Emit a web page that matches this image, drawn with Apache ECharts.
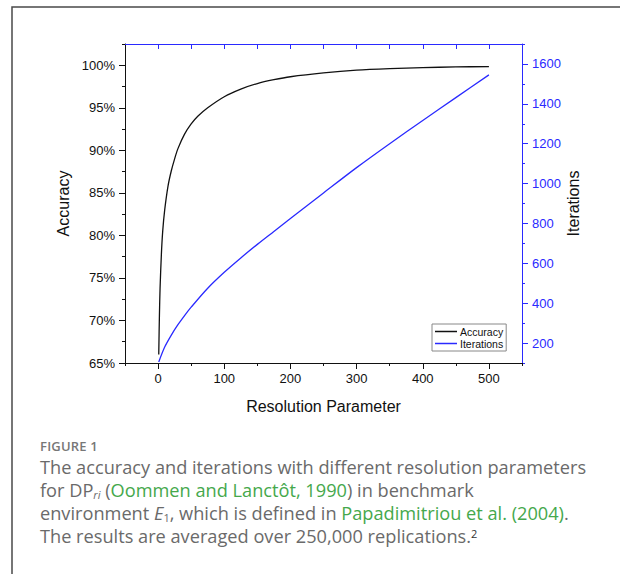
<!DOCTYPE html>
<html>
<head>
<meta charset="utf-8">
<script src="https://cdn.jsdelivr.net/npm/echarts@6.0.0/dist/echarts.min.js"></script>
<style>
  html, body { margin: 0; padding: 0; background: #fff; }
  #wrap { position: relative; width: 620px; height: 574px; }
  #chart { position: absolute; left: 0; top: 0; width: 620px; height: 574px; }
  #caption { position: absolute; left: 40px; top: 437px; width: 580px; font-family: "Open Sans", sans-serif; color: #6a6a6a; }
  #caption .fig { font-size: 13px; font-weight: 600; line-height: 19px; letter-spacing: 0.2px; color: #777; }
  #caption .cap { font-size: 18.2px; line-height: 23px; white-space: nowrap; }
  #caption .g { color: #45a84c; }
  #caption .sub { font-size: 11px; line-height: 0; vertical-align: -2px; }
  #caption .sup { font-size: 11px; line-height: 0; vertical-align: 5px; color: #333; }
</style>
</head>
<body>
<div id="wrap">
  <div id="chart"></div>
  <div id="caption">
    <div class="fig">FIGURE 1</div>
    <div class="cap">The accuracy and iterations with different resolution parameters<br>for DP<span class="sub"><i>ri</i></span> (<span class="g">Oommen and Lanctôt, 1990</span>) in benchmark<br>environment <i>E</i><span class="sub">1</span>, which is defined in <span class="g">Papadimitriou et al. (2004)</span>.<br>The results are averaged over 250,000 replications.<span class="sup">2</span></div>
  </div>
</div>
<script>
// values
var resolution = [1, 2, 3, 5, 7, 10, 15, 20, 25, 30, 40, 50, 60, 75, 100, 125, 150, 175, 200, 250, 300, 350, 400, 450, 500];
var accuracy = [66.0, 70.5, 73.8, 77.8, 80.5, 83.0, 85.8, 87.6, 89.0, 90.2, 91.9, 93.1, 94.0, 95.0, 96.3, 97.2, 97.85, 98.3, 98.65, 99.1, 99.42, 99.6, 99.72, 99.8, 99.85];

var iterResolution = [1, 10, 20, 30, 40, 50, 75, 100, 125, 150, 175, 200, 250, 300, 350, 400, 450, 500];
var iterations = [105, 180, 240, 292, 338, 380, 475, 555, 627, 695, 760, 825, 953, 1080, 1200, 1316, 1431, 1545];

// tick values
var xLabels = [0, 100, 200, 300, 400, 500];
var xMinor = [-50, 50, 150, 250, 350, 450, 550];
var xTop = [0, 50, 100, 150, 200, 250, 300, 350, 400, 450, 500];
var accLabels = [65, 70, 75, 80, 85, 90, 95, 100];
var accMinor = [67.5, 72.5, 77.5, 82.5, 87.5, 92.5, 97.5, 102.5];
var iterLabels = [200, 400, 600, 800, 1000, 1200, 1400, 1600];
var iterMinor = [100, 300, 500, 700, 900, 1100, 1300, 1500, 1700];

var font = 'Liberation Sans';
var black = '#111';
var blue = '#2a2aff';

function pairs(xs, ys) {
    return xs.map(function (x, i) { return [x, ys[i]]; });
}

var chartDom = document.getElementById('chart');
var myChart = echarts.init(chartDom, null, { renderer: 'svg' });

var option = {
    animation: false,
    grid: { left: 125, right: 98, top: 44, bottom: 211, outerBoundsMode: 'none' },
    legend: {
        orient: 'vertical',
        left: 432,
        top: 324,
        padding: [2, 3, 2, 3],
        itemGap: 1,
        itemWidth: 22,
        itemHeight: 1.5,
        icon: 'rect',
        borderColor: '#888',
        borderWidth: 1,
        borderRadius: 0,
        textStyle: { fontFamily: font, fontSize: 10.5, color: '#111', padding: [0, 0, 0, -2] },
        data: ['Accuracy', 'Iterations']
    },
    xAxis: [
        {
            type: 'value', position: 'bottom', min: -50, max: 550,
            name: 'Resolution Parameter', nameLocation: 'middle', nameGap: 35, nameMoveOverlap: false,
            nameTextStyle: { fontFamily: font, fontSize: 16, color: '#111' },
            axisLine: { onZero: false, lineStyle: { color: black, width: 1 } },
            axisTick: { customValues: xLabels, length: 6, lineStyle: { color: black } },
            axisLabel: { customValues: xLabels, fontFamily: font, fontSize: 13, color: '#111', margin: 9,
                formatter: function (v) { return String(v); } },
            splitLine: { show: false }
        },
        {
            type: 'value', position: 'bottom', min: -50, max: 550,
            axisLine: { show: false, onZero: false },
            axisTick: { customValues: xMinor, length: 3, lineStyle: { color: black } },
            axisLabel: { show: false },
            splitLine: { show: false }
        },
        {
            type: 'value', position: 'top', min: -50, max: 550,
            axisLine: { onZero: false, lineStyle: { color: blue, width: 1 } },
            axisTick: { customValues: xTop, inside: true, length: 5, lineStyle: { color: blue } },
            axisLabel: { show: false },
            splitLine: { show: false }
        }
    ],
    yAxis: [
        {
            type: 'value', position: 'left', min: 65, max: 102.5,
            name: 'Accuracy', nameLocation: 'middle', nameGap: 54, nameMoveOverlap: false,
            nameTextStyle: { fontFamily: font, fontSize: 16, color: '#111' },
            axisLine: { show: true, onZero: false, lineStyle: { color: black, width: 1 } },
            axisTick: { show: true, customValues: accLabels, length: 6, lineStyle: { color: black } },
            axisLabel: {
                customValues: accLabels, fontFamily: font, fontSize: 13, color: '#111', margin: 10,
                formatter: function (v) { return v + '%'; }
            },
            splitLine: { show: false }
        },
        {
            type: 'value', position: 'left', min: 65, max: 102.5,
            axisLine: { show: false, onZero: false },
            axisTick: { show: true, customValues: accMinor, length: 3, lineStyle: { color: black } },
            axisLabel: { show: false },
            splitLine: { show: false }
        },
        {
            type: 'value', position: 'right', min: 100, max: 1700,
            name: 'Iterations', nameLocation: 'middle', nameGap: 43, nameMoveOverlap: false,
            nameTextStyle: { fontFamily: font, fontSize: 16, color: '#111' },
            axisLine: { show: true, onZero: false, lineStyle: { color: blue, width: 1 } },
            axisTick: { show: true, customValues: iterLabels, length: 6, lineStyle: { color: blue } },
            axisLabel: { customValues: iterLabels, fontFamily: font, fontSize: 13, color: blue, margin: 10,
                formatter: function (v) { return String(v); } },
            splitLine: { show: false }
        },
        {
            type: 'value', position: 'right', min: 100, max: 1700,
            axisLine: { show: false, onZero: false },
            axisTick: { show: true, customValues: iterMinor, length: 3, lineStyle: { color: blue } },
            axisLabel: { show: false },
            splitLine: { show: false }
        }
    ],
    series: [
        {
            name: 'Accuracy',
            type: 'line',
            xAxisIndex: 0,
            yAxisIndex: 0,
            data: pairs(resolution, accuracy),
            showSymbol: false,
            smooth: 0.3,
            color: black,
            lineStyle: { color: black, width: 1.3 }
        },
        {
            name: 'Iterations',
            type: 'line',
            xAxisIndex: 0,
            yAxisIndex: 2,
            data: pairs(iterResolution, iterations),
            showSymbol: false,
            smooth: 0.3,
            color: blue,
            lineStyle: { color: blue, width: 1.3 }
        }
    ],
    graphic: [
        {
            type: 'polyline',
            silent: true,
            shape: { points: [[12, 574], [12, 7], [620, 7]] },
            style: { stroke: '#4a4a4a', lineWidth: 1.5, fill: null }
        }
    ]
};

option && myChart.setOption(option);
</script>
</body>
</html>
